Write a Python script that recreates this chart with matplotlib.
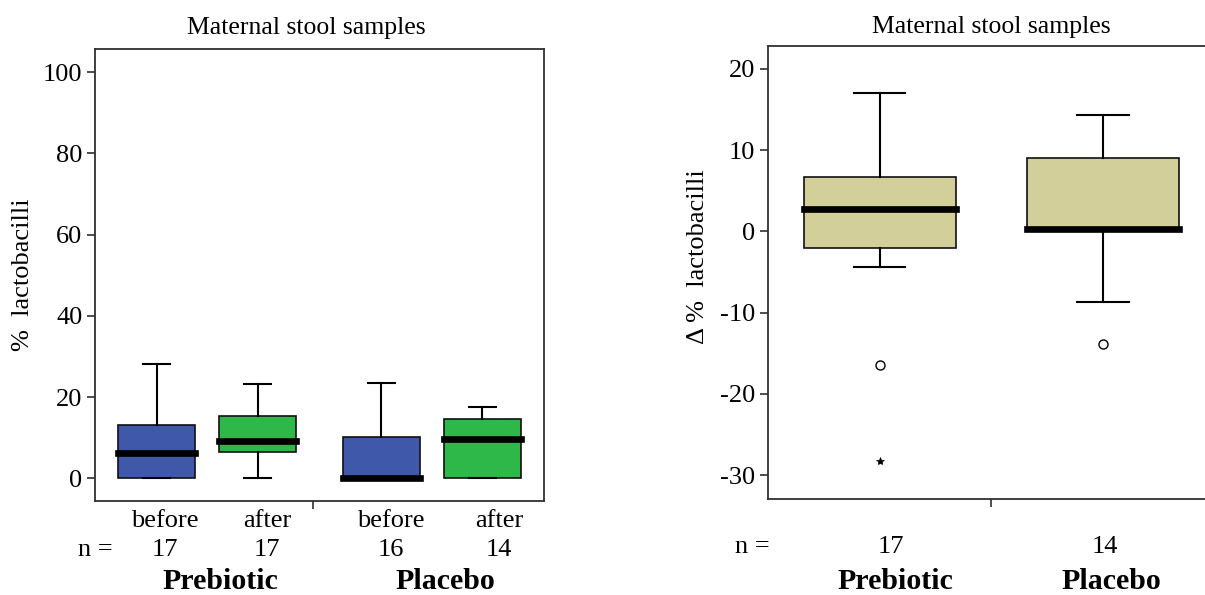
import matplotlib
matplotlib.use("Agg")
import matplotlib.pyplot as plt

plt.rcParams['font.family'] = ['Liberation Serif', 'DejaVu Serif']

# ---------------- data ----------------
title = "Maternal stool samples"
groups = ["Prebiotic", "Placebo"]
times_left = ["before", "after", "before", "after"]
n_left = [17, 17, 16, 14]
left_whislo = [0.0, 0.0, 0.0, 0.0]
left_q1 = [0.0, 6.4, 0.0, 0.0]
left_med = [6.2, 9.2, 0.0, 9.6]
left_q3 = [13.2, 15.3, 10.1, 14.6]
left_whishi = [28.2, 23.2, 23.5, 17.5]
left_colors = ["#3F58AA", "#2EB84A", "#3F58AA", "#2EB84A"]
left_yticks = [0, 20, 40, 60, 80, 100]

n_right = [17, 14]
right_whislo = [-4.4, -8.7]
right_q1 = [-2.0, 0.0]
right_med = [2.8, 0.25]
right_q3 = [6.7, 9.05]
right_whishi = [17.0, 14.3]
right_circles = [[-16.4], [-13.9]]
right_stars = [[-28.25], []]
right_color = "#D3CF9A"
right_yticks = [-30, -20, -10, 0, 10, 20]

# ---------------- layout ----------------
W, H = 1205, 595
fig = plt.figure(figsize=(W / 100, H / 100), dpi=100)

def px_axes(x0, y0, x1, y1):
    return fig.add_axes([x0 / W, 1 - y1 / H, (x1 - x0) / W, (y1 - y0) / H])

axL = px_axes(95, 49.3, 544, 500.7)
axR = px_axes(768, 46, 1214.5, 499)

FS = 19
FS_T = 18.5
FS_B = 21.5
frame_col = "#303030"


def style_axes(ax, ylim, yticks):
    ax.set_xlim(0.5, 2.5)
    ax.set_ylim(*ylim)
    ax.set_yticks(yticks)
    ax.set_yticklabels([str(t) for t in yticks], fontsize=FS)
    ax.set_xticks([1.5])
    ax.set_xticklabels([""])
    ax.tick_params(axis='both', direction='out', length=6, width=1.2, color=frame_col, pad=3)
    for s in ax.spines.values():
        s.set_color(frame_col)
        s.set_linewidth(1.3)


def draw_boxes(ax, pos, whislo, q1, med, q3, whishi, colors, width, capw):
    stats = []
    for i in range(len(pos)):
        stats.append(dict(whislo=whislo[i], q1=q1[i], med=med[i], q3=q3[i],
                          whishi=whishi[i], fliers=[]))
    bp = ax.bxp(stats, positions=pos, widths=width, capwidths=capw,
                patch_artist=True, showfliers=False, manage_ticks=False,
                boxprops=dict(linewidth=1.2, edgecolor="#111111"),
                whiskerprops=dict(linewidth=1.5, color="black"),
                capprops=dict(linewidth=1.5, color="black"),
                medianprops=dict(linewidth=4.8, color="black",
                                 solid_capstyle='projecting'))
    for patch, c in zip(bp['boxes'], colors):
        patch.set_facecolor(c)
    for m in bp['medians']:
        m.set_zorder(4)
    return bp


# ---------------- left panel ----------------
posL = [0.776, 1.224, 1.776, 2.224]
draw_boxes(axL, posL, left_whislo, left_q1, left_med, left_q3, left_whishi,
           left_colors, 0.343, 0.12)
style_axes(axL, (-5.5, 105.6), left_yticks)
axL.set_xticks([1.47])
axL.set_xticklabels([""])
axL.set_ylabel("%  lactobacilli", fontsize=FS)
axL.yaxis.set_label_coords(-0.136, 0.5)

label_shift = [0.036, 0.042, 0.042, 0.076]
trL = axL.get_xaxis_transform()
for p, sh, t, n in zip(posL, label_shift, times_left, n_left):
    axL.text(p + sh, -0.045, t, transform=trL, ha='center', va='center', fontsize=FS)
    axL.text(p + sh, -0.11, str(n), transform=trL, ha='center', va='center', fontsize=FS)
axL.text(0.5, -0.11, "n =", transform=trL, ha='center', va='center', fontsize=FS)
grp_x_L = [1.06, 2.06]
for gx, g in zip(grp_x_L, groups):
    axL.text(gx, -0.18, g, transform=trL, ha='center', va='center',
             fontsize=FS_B, fontweight='bold')
fig.text(306 / W, 1 - 28 / H, title, ha='center', va='center', fontsize=FS_T)

# ---------------- right panel ----------------
posR = [1, 2]
draw_boxes(axR, posR, right_whislo, right_q1, right_med, right_q3, right_whishi,
           [right_color] * 2, 0.68, 0.23)
for p, vals in zip(posR, right_circles):
    axR.plot([p] * len(vals), vals, linestyle='none', marker='o', markersize=6.5,
             markerfacecolor='none', markeredgecolor='black', markeredgewidth=1.0)
for p, vals in zip(posR, right_stars):
    if vals:
        axR.plot([p] * len(vals), vals, linestyle='none', marker='*', markersize=6,
                 markerfacecolor='black', markeredgecolor='black', markeredgewidth=0.5)
style_axes(axR, (-32.95, 22.83), right_yticks)
axR.set_ylabel("Δ %  lactobacilli", fontsize=FS)
axR.yaxis.set_label_coords(-0.132, 0.536)

trR = axR.get_xaxis_transform()
num_x_R = [1.05, 2.01]
for x, n in zip(num_x_R, n_right):
    axR.text(x, -0.107, str(n), transform=trR, ha='center', va='center', fontsize=FS)
axR.text(0.43, -0.107, "n =", transform=trR, ha='center', va='center', fontsize=FS)
grp_x_R = [1.07, 2.04]
for gx, g in zip(grp_x_R, groups):
    axR.text(gx, -0.183, g, transform=trR, ha='center', va='center',
             fontsize=FS_B, fontweight='bold')
fig.text(991 / W, 1 - 27 / H, title, ha='center', va='center', fontsize=FS_T)

fig.savefig("out.png", dpi=100)
